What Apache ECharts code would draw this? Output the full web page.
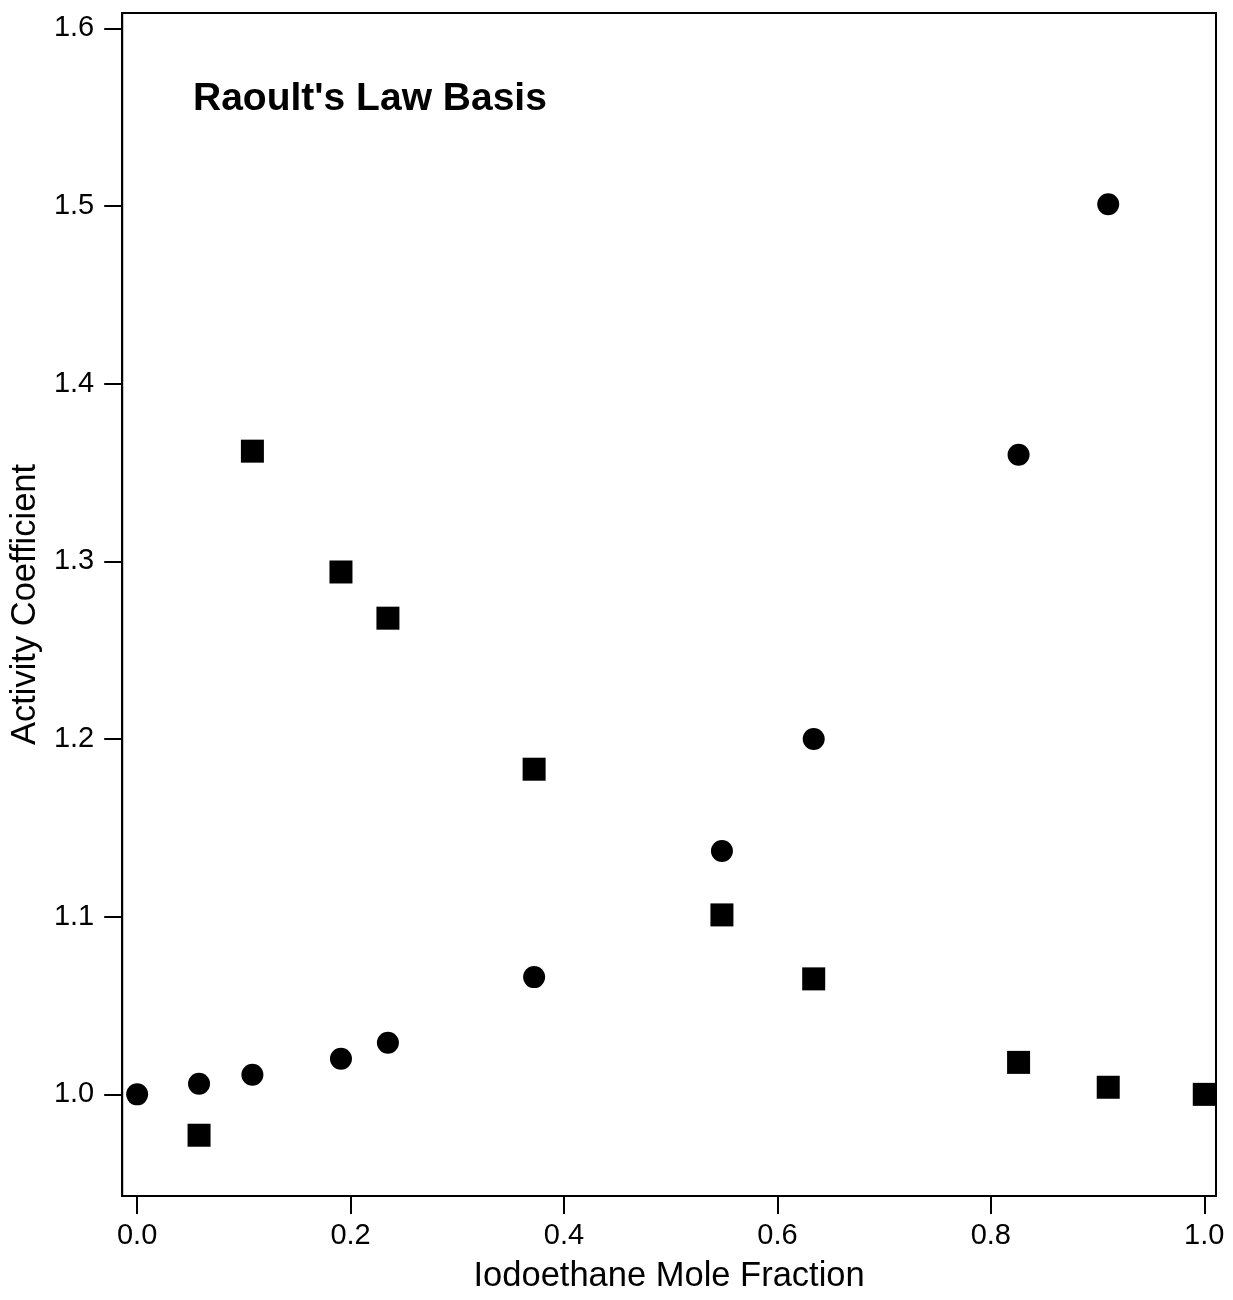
<!DOCTYPE html>
<html>
<head>
<meta charset="utf-8">
<script src="https://cdn.jsdelivr.net/npm/echarts@6/dist/echarts.min.js"></script>
<style>
  html, body { margin: 0; padding: 0; background: #fff; }
  #chart { width: 1233px; height: 1300px; }
</style>
</head>
<body>
<div id="chart"></div>
<script>
// mole fraction of iodoethane for each sample
var circleX = [0, 0.058, 0.108, 0.191, 0.235, 0.372, 0.548, 0.634, 0.826, 0.910];
var circleGamma = [1.000, 1.006, 1.011, 1.020, 1.029, 1.066, 1.137, 1.200, 1.360, 1.501];
var squareX = [0.058, 0.108, 0.191, 0.235, 0.372, 0.548, 0.634, 0.826, 0.910, 1.0];
var squareGamma = [0.977, 1.362, 1.294, 1.268, 1.183, 1.101, 1.065, 1.018, 1.004, 1.000];
var xTicks = [0, 0.2, 0.4, 0.6, 0.8, 1.0];
var yTicks = [1.0, 1.1, 1.2, 1.3, 1.4, 1.5, 1.6];

function pairs(xs, ys) {
  var out = [];
  for (var i = 0; i < xs.length; i++) out.push([xs[i], ys[i]]);
  return out;
}

var font = 'Liberation Sans, Arial, Helvetica, sans-serif';
var chart = echarts.init(document.getElementById('chart'));

chart.setOption({
  animation: false,
  backgroundColor: '#fff',
  title: {
    text: "Raoult's Law Basis",
    left: 193,
    top: 80,
    padding: 0,
    textStyle: { fontFamily: font, fontSize: 39, fontWeight: 'bold', color: '#000' }
  },
  grid: {
    left: 122, top: 13, right: 17, bottom: 104,
    show: true, borderColor: '#000', borderWidth: 2, backgroundColor: 'transparent'
  },
  xAxis: {
    type: 'value',
    min: -0.014,
    max: 1.011,
    name: 'Iodoethane Mole Fraction',
    nameLocation: 'middle',
    nameGap: 63,
    nameTextStyle: { fontFamily: font, fontSize: 34.5, color: '#000' },
    axisLine: { show: true, onZero: false, lineStyle: { color: '#000', width: 2 } },
    axisTick: { show: true, inside: false, length: 18, lineStyle: { color: '#000', width: 2 }, customValues: xTicks },
    axisLabel: {
      fontFamily: font, fontSize: 29, color: '#000', margin: 25,
      customValues: xTicks,
      formatter: function (v) { return v.toFixed(1); }
    },
    splitLine: { show: false }
  },
  yAxis: {
    type: 'value',
    min: 0.9428,
    max: 1.6086,
    name: 'Activity Coefficient',
    nameLocation: 'middle',
    nameGap: 76,
    nameTextStyle: { fontFamily: font, fontSize: 34.5, color: '#000' },
    axisLine: { show: true, onZero: false, lineStyle: { color: '#000', width: 2 } },
    axisTick: { show: true, inside: false, length: 18, lineStyle: { color: '#000', width: 2 }, customValues: yTicks },
    axisLabel: {
      fontFamily: font, fontSize: 29, color: '#000', margin: 28,
      customValues: yTicks,
      formatter: function (v) { return v.toFixed(1); }
    },
    splitLine: { show: false }
  },
  series: [
    {
      type: 'scatter',
      symbol: 'circle',
      symbolSize: 22,
      itemStyle: { color: '#000', opacity: 1 },
      data: pairs(circleX, circleGamma)
    },
    {
      type: 'scatter',
      symbol: 'rect',
      symbolSize: 23,
      itemStyle: { color: '#000', opacity: 1 },
      data: pairs(squareX, squareGamma)
    }
  ]
});
</script>
</body>
</html>
